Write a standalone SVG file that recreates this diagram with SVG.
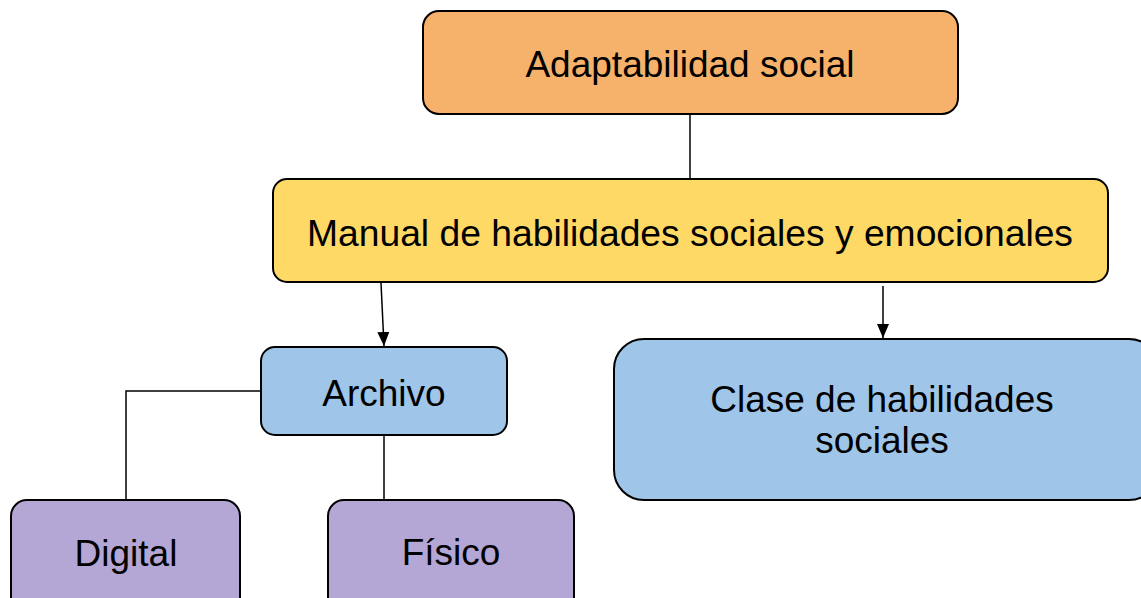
<svg xmlns="http://www.w3.org/2000/svg" width="1141" height="598" viewBox="0 0 1141 598">
<style>
.box{stroke:#000;stroke-width:2}
.t{font-family:"Liberation Sans",Arial,sans-serif;font-size:37px;fill:#000;text-anchor:middle}
.c{stroke:#000;stroke-width:1.5;fill:none}
</style>
<defs>
<marker id="ah" markerWidth="14" markerHeight="12" refX="14" refY="6" orient="auto" markerUnits="userSpaceOnUse">
<path d="M0,0 L14,6 L0,12 Z" fill="#000"/>
</marker>
</defs>
<rect width="1141" height="598" fill="#fff"/>
<g id="connectors">
<line class="c" x1="690" y1="114" x2="690" y2="179"/>
<line class="c" x1="381" y1="283" x2="384" y2="346" marker-end="url(#ah)"/>
<line class="c" x1="883" y1="286" x2="883" y2="338" marker-end="url(#ah)"/>
<polyline class="c" points="261,391 126,391 126,500"/>
<line class="c" x1="384" y1="435" x2="384" y2="500"/>
</g>
<g id="adaptabilidad">
<rect class="box" x="423" y="11" width="535" height="103" rx="16" fill="#F6B26B"/>
<text class="t" x="690" y="77">Adaptabilidad social</text>
</g>
<g id="manual">
<rect class="box" x="273" y="179" width="835" height="103" rx="14" fill="#FFD966"/>
<text class="t" x="690" y="246" textLength="766" lengthAdjust="spacingAndGlyphs">Manual de habilidades sociales y emocionales</text>
</g>
<g id="archivo">
<rect class="box" x="261" y="347" width="246" height="88" rx="14" fill="#9FC5E8"/>
<text class="t" x="384" y="406">Archivo</text>
</g>
<g id="clase">
<rect class="box" x="614" y="339" width="545" height="161" rx="30" fill="#9FC5E8"/>
<text class="t" x="882" y="412">Clase de habilidades</text>
<text class="t" x="882" y="453">sociales</text>
</g>
<g id="digital">
<rect class="box" x="11" y="500" width="229" height="120" rx="16" fill="#B4A7D6"/>
<text class="t" x="126" y="566">Digital</text>
</g>
<g id="fisico">
<rect class="box" x="328" y="500" width="246" height="120" rx="16" fill="#B4A7D6"/>
<text class="t" x="451" y="565">Físico</text>
</g>
</svg>
